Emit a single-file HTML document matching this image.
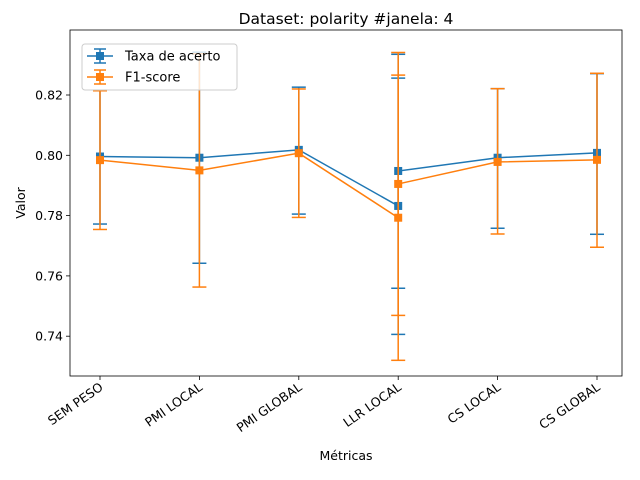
<!DOCTYPE html>
<html><head><meta charset="utf-8"><style>
body{margin:0;background:#fff}
svg{display:block;font-family:"DejaVu Sans","Liberation Sans",sans-serif}
</style></head><body>
<svg id="chart" width="640" height="480" viewBox="0 0 640 480"></svg>
<script>
const categories=["SEM PESO","PMI LOCAL","PMI GLOBAL","LLR LOCAL","CS LOCAL","CS GLOBAL"];
const pointCat=[0,1,2,3,3,4,5];
const accMean=[0.7996,0.7992,0.8018,0.7832,0.7948,0.7992,0.8008];
const accLow=[0.7772,0.7642,0.7805,0.7406,0.7559,0.7758,0.7738];
const accHigh=[0.8216,0.8342,0.8226,0.8256,0.8335,0.8221,0.8271];
const f1Mean=[0.7984,0.7950,0.8007,0.7793,0.7905,0.7978,0.7985];
const f1Low=[0.7754,0.7563,0.7794,0.7320,0.7469,0.7739,0.7695];
const f1High=[0.8214,0.8337,0.8220,0.8266,0.8341,0.8221,0.8272];
const yTicks=[0.74,0.76,0.78,0.80,0.82];

const NS="http://www.w3.org/2000/svg";
const svg=document.getElementById('chart');
const L=70,R=622,T=30,B=376;
const xs=i=>100+i*99.4;
const ys=v=>155.3-(v-0.80)*3015;
function el(tag,attrs,parent){const e=document.createElementNS(NS,tag);for(const k in attrs)e.setAttribute(k,attrs[k]);(parent||svg).appendChild(e);return e;}

const title=el('text',{x:346,y:24,'text-anchor':'middle','font-size':15.5,fill:'#000'});


title.textContent='Dataset: polarity #janela: 4';

yTicks.forEach(v=>{
  const g=el('g',{});
  
  
  el('line',{x1:L-4,x2:L,y1:ys(v),y2:ys(v),stroke:'#000','stroke-width':0.8},g);
  const t=el('text',{x:L-7,y:ys(v)+4.5,'text-anchor':'end','font-size':12.5},g);
  t.textContent=v.toFixed(2);
});
categories.forEach((c,i)=>{
  const g=el('g',{});
  
  
  el('line',{x1:xs(i),x2:xs(i),y1:B,y2:B+4,stroke:'#000','stroke-width':0.8},g);
  const t=el('text',{x:xs(i)+4,y:B+13,'text-anchor':'end','font-size':12.5,transform:`rotate(-35 ${xs(i)+4} ${B+13})`},g);
  t.textContent=c;
});
const xl=el('text',{x:346,y:460,'text-anchor':'middle','font-size':12.5});


xl.textContent='Métricas';
const yl=el('text',{x:25,y:203,'text-anchor':'middle','font-size':12.5,transform:'rotate(-90 25 203)'});


yl.textContent='Valor';

function series(mean,low,high,color,name){
  const g=el('g',{});
  
  
  mean.forEach((m,i)=>{
    const x=xs(pointCat[i]);
    el('line',{x1:x,x2:x,y1:ys(low[i]),y2:ys(high[i]),stroke:color,'stroke-width':1.5},g);
    el('line',{x1:x-7,x2:x+7,y1:ys(low[i]),y2:ys(low[i]),stroke:color,'stroke-width':1.5},g);
    el('line',{x1:x-7,x2:x+7,y1:ys(high[i]),y2:ys(high[i]),stroke:color,'stroke-width':1.5},g);
  });
  el('polyline',{points:mean.map((m,i)=>xs(pointCat[i])+','+ys(m)).join(' '),fill:'none',stroke:color,'stroke-width':1.5},g);
  mean.forEach((m,i)=>{
    const r=el('rect',{x:xs(pointCat[i])-4,y:ys(m)-4,width:8,height:8,fill:color},g);
    
    
  });
}
series(accMean,accLow,accHigh,'#1f77b4','series-taxa-de-acerto');
series(f1Mean,f1Low,f1High,'#ff7f0e','series-f1-score');

const frame=el('rect',{x:L,y:T,width:R-L,height:B-T,fill:'none',stroke:'#000','stroke-width':0.8});



const lg=el('g',{});


el('rect',{x:82,y:44,width:155,height:46,rx:3,fill:'#fff','fill-opacity':0.8,stroke:'#ccc'},lg);
[['Taxa de acerto','#1f77b4',56],['F1-score','#ff7f0e',77]].forEach(([n,c,y])=>{
  const e=el('g',{},lg);
  
  
  el('line',{x1:87,x2:113,y1:y,y2:y,stroke:c,'stroke-width':1.5},e);
  el('line',{x1:100,x2:100,y1:y-7,y2:y+7,stroke:c,'stroke-width':1.5},e);
  el('line',{x1:94,x2:106,y1:y-7,y2:y-7,stroke:c,'stroke-width':1.5},e);
  el('line',{x1:94,x2:106,y1:y+7,y2:y+7,stroke:c,'stroke-width':1.5},e);
  el('rect',{x:96,y:y-4,width:8,height:8,fill:c},e);
  const t=el('text',{x:125,y:y+4.5,'font-size':13},e);
  t.textContent=n;
});
</script>
</body></html>
